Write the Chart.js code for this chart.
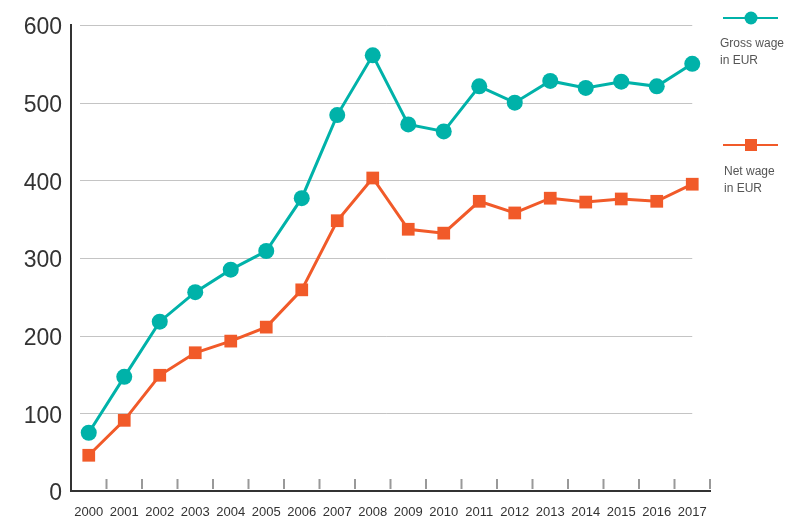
<!DOCTYPE html>
<html>
<head>
<meta charset="utf-8">
<script src="https://cdn.jsdelivr.net/npm/chart.js@4/dist/chart.umd.min.js"></script>
<style>
    html, body { margin: 0; padding: 0; background: #fff; }
    #wrap { position: relative; width: 786px; height: 519px; }
</style>
</head>
<body>
<div id="wrap"><canvas id="chart-wage"></canvas></div>
<script>
// Average wages, EUR
const years = ['2000', '2001', '2002', '2003', '2004', '2005', '2006', '2007', '2008',
    '2009', '2010', '2011', '2012', '2013', '2014', '2015', '2016', '2017'];
const grossWage = [75, 147, 218, 256, 285, 309, 377, 484, 561, 472, 463, 521, 500, 528, 519, 527, 521, 550];
const netWage = [46, 91, 149, 178, 193, 211, 259, 348, 403, 337, 332, 373, 358, 377, 372, 376, 373, 395];
const yTicks = [0, 100, 200, 300, 400, 500, 600];

const TEAL = '#00b2a9';
const ORANGE = '#f15a29';

// grid lines, inner tick marks and the side legend
const decor = {
    id: 'decor',
    beforeDatasetsDraw(chart) {
        const { ctx, chartArea, scales } = chart;
        const x = scales.x, y = scales.y;
        ctx.save();
        ctx.strokeStyle = '#c4c4c4';
        ctx.lineWidth = 1;
        yTicks.forEach(v => {
            if (v === 0) return;
            const py = Math.round(y.getPixelForValue(v)) + 0.5;
            ctx.beginPath();
            ctx.moveTo(80, py);
            ctx.lineTo(x.getPixelForValue(years.length - 1), py);
            ctx.stroke();
        });
        ctx.strokeStyle = '#999';
        ctx.lineWidth = 2;
        const bottom = chartArea.bottom;
        for (let i = 0; i < years.length; i++) {
            const px = i < years.length - 1
                ? (x.getPixelForValue(i) + x.getPixelForValue(i + 1)) / 2
                : chartArea.right;
            ctx.beginPath();
            ctx.moveTo(px, bottom - 12);
            ctx.lineTo(px, bottom - 2);
            ctx.stroke();
        }
        ctx.restore();
    },
    afterDraw(chart) {
        const { ctx } = chart;
        ctx.save();
        ctx.lineWidth = 2;
        // gross
        ctx.strokeStyle = TEAL;
        ctx.beginPath(); ctx.moveTo(723, 18); ctx.lineTo(778, 18); ctx.stroke();
        ctx.fillStyle = TEAL;
        ctx.beginPath(); ctx.arc(751, 18, 6.5, 0, Math.PI * 2); ctx.fill();
        // net
        ctx.strokeStyle = ORANGE;
        ctx.beginPath(); ctx.moveTo(723, 145); ctx.lineTo(778, 145); ctx.stroke();
        ctx.fillStyle = ORANGE;
        ctx.fillRect(745, 139, 12, 12);
        ctx.fillStyle = '#555';
        ctx.font = '12px "Liberation Sans Narrow", "Liberation Sans", Arial';
        ctx.textBaseline = 'middle';
        ctx.fillText('Gross wage', 720, 44);
        ctx.fillText('in EUR', 720, 61);
        ctx.fillText('Net wage', 724, 172);
        ctx.fillText('in EUR', 724, 189);
        ctx.restore();
    }
};

new Chart(document.getElementById('chart-wage'), {
    type: 'line',
    data: {
        labels: years,
        datasets: [
            {
                label: 'Gross wage in EUR',
                data: grossWage,
                borderColor: TEAL,
                backgroundColor: TEAL,
                borderWidth: 3,
                pointStyle: 'circle',
                pointRadius: 8,
                pointBorderWidth: 0,
                tension: 0,
                fill: false,
            },
            {
                label: 'Net wage in EUR',
                data: netWage,
                borderColor: ORANGE,
                backgroundColor: ORANGE,
                borderWidth: 3,
                pointStyle: 'rect',
                pointRadius: 9,
                pointBorderWidth: 0,
                tension: 0,
                fill: false,
            },
        ],
    },
    options: {
        responsive: true,
        maintainAspectRatio: false,
        animation: false,
        layout: { padding: { top: 25, right: 76, left: 0, bottom: 0 } },
        plugins: {
            legend: { display: false },
            tooltip: { enabled: false },
        },
        scales: {
            x: {
                type: 'category',
                offset: true,
                grid: { display: false, drawTicks: false },
                border: { display: true, color: '#333', width: 2 },
                ticks: {
                    color: '#333',
                    padding: 14,
                    maxRotation: 0,
                    autoSkip: false,
                    font: { family: '"Liberation Sans", Arial', size: 13 },
                },
                afterFit: s => { s.height = 28; },
            },
            y: {
                min: 0,
                max: 600,
                afterBuildTicks: s => { s.ticks = yTicks.map(v => ({ value: v })); },
                grid: { display: false, drawTicks: false },
                border: { display: true, color: '#333', width: 2 },
                ticks: {
                    color: '#333',
                    padding: 9,
                    labelOffset: 3,
                    font: { family: '"Liberation Sans", Arial', size: 23 },
                },
                afterFit: s => { s.width = 71; },
            },
        },
    },
    plugins: [decor],
});
</script>
</body>
</html>
